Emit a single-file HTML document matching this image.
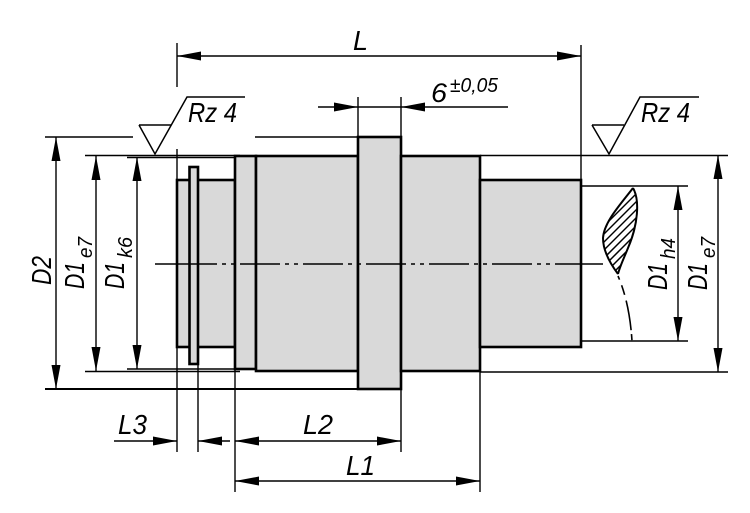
<!DOCTYPE html>
<html><head><meta charset="utf-8"><style>
html,body{margin:0;padding:0;background:#fff;}
svg{display:block;}
text{font-family:"Liberation Sans",sans-serif;font-style:italic;fill:#000;}
</style></head><body>
<svg width="750" height="513" viewBox="0 0 750 513" xmlns="http://www.w3.org/2000/svg">
<defs>
<clipPath id="leaf"><path d="M633,188 C640,200 638,225 628,248 C624,258 620,266 618,274 C612,266 603,252 603,238 C604,222 620,205 633,188 Z"/></clipPath>
</defs>

<!-- extension lines -->
<g stroke="#000" stroke-width="1.4" fill="none">
<line x1="45" y1="137" x2="133" y2="137"/>
<line x1="255" y1="137" x2="358" y2="137"/>
<line x1="45" y1="389" x2="358" y2="389" stroke-width="2"/>
<line x1="85" y1="155.5" x2="240" y2="155.5"/>
<line x1="127" y1="157.5" x2="240" y2="157.5"/>
<line x1="85" y1="371.5" x2="240" y2="371.5"/>
<line x1="127" y1="369" x2="240" y2="369"/>
<line x1="480" y1="155.5" x2="728" y2="155.5"/>
<line x1="480" y1="372" x2="728" y2="372"/>
<line x1="582" y1="186" x2="688" y2="186"/>
<line x1="582" y1="341" x2="688" y2="341"/>
<line x1="177" y1="43" x2="177" y2="87"/>
<line x1="177" y1="149" x2="177" y2="452"/>
<line x1="581" y1="45" x2="581" y2="182"/>
<line x1="358" y1="97" x2="358" y2="138"/>
<line x1="401" y1="97" x2="401" y2="138"/>
<line x1="401" y1="388" x2="401" y2="452"/>
<line x1="198" y1="360" x2="198" y2="452"/>
<line x1="235" y1="365" x2="235" y2="492"/>
<line x1="480" y1="368" x2="480" y2="492"/>
</g>

<!-- parts -->
<g fill="#d9d9d9" stroke="#000" stroke-width="2.6">
<rect x="177" y="180" width="58" height="167"/>
<rect x="189.5" y="167" width="8.5" height="197"/>
<rect x="235" y="156" width="21" height="213"/>
<rect x="256" y="156" width="102" height="215"/>
<rect x="358" y="137" width="43" height="252"/>
<rect x="401" y="156" width="79" height="215"/>
<rect x="480" y="180" width="101" height="167"/>
</g>

<!-- centerline -->
<g stroke="#000" stroke-width="1.4">
<line x1="155" y1="264" x2="177" y2="264"/>
<line x1="177" y1="264" x2="581" y2="264" stroke-dasharray="40,5,4,5,4,5"/>
<line x1="581" y1="264" x2="603" y2="264"/>
</g>

<!-- hatched break section -->
<g clip-path="url(#leaf)" stroke="#000" stroke-width="1.5">
<line x1="590" y1="240" x2="650" y2="180"/>
<line x1="590" y1="248" x2="650" y2="188"/>
<line x1="590" y1="256" x2="650" y2="196"/>
<line x1="590" y1="264" x2="650" y2="204"/>
<line x1="590" y1="272" x2="650" y2="212"/>
<line x1="590" y1="280" x2="650" y2="220"/>
<line x1="590" y1="288" x2="650" y2="228"/>
<line x1="590" y1="296" x2="650" y2="236"/>
<line x1="590" y1="304" x2="650" y2="244"/>
<line x1="590" y1="312" x2="650" y2="252"/>
<line x1="590" y1="320" x2="650" y2="260"/>
</g>
<g fill="none" stroke="#000" stroke-width="2">
<path d="M633,188 C640,200 638,225 628,248 C624,258 620,266 618,274"/>
<path d="M633,188 C620,205 604,222 603,238 C603,252 612,266 618,274"/>
<path d="M618,276 C624,290 630,310 632,341" stroke-width="1.6" stroke-dasharray="4,6,10,6,30"/>
</g>

<!-- dimension lines -->
<g stroke="#000" stroke-width="1.4">
<line x1="177" y1="56" x2="581" y2="56"/>
<line x1="318" y1="107" x2="508" y2="107"/>
<line x1="114" y1="441" x2="177" y2="441"/>
<line x1="198" y1="441" x2="230" y2="441"/>
<line x1="235" y1="441" x2="401" y2="441"/>
<line x1="235" y1="481" x2="480" y2="481"/>
<line x1="56" y1="137" x2="56" y2="389"/>
<line x1="96" y1="156" x2="96" y2="371"/>
<line x1="137" y1="157" x2="137" y2="369"/>
<line x1="678" y1="186" x2="678" y2="341"/>
<line x1="718" y1="155" x2="718" y2="372"/>
</g>

<!-- arrowheads -->
<g fill="#000">
<polygon points="177,56 201,51.5 201,60.5"/>
<polygon points="581,56 557,51.5 557,60.5"/>
<polygon points="358,107 334,102.5 334,111.5"/>
<polygon points="401,107 425,102.5 425,111.5"/>
<polygon points="177,441 153,436.5 153,445.5"/>
<polygon points="198,441 222,436.5 222,445.5"/>
<polygon points="235,441 259,436.5 259,445.5"/>
<polygon points="401,441 377,436.5 377,445.5"/>
<polygon points="235,481 259,476.5 259,485.5"/>
<polygon points="480,481 456,476.5 456,485.5"/>
<polygon points="56,137 51.5,161 60.5,161"/>
<polygon points="56,389 51.5,365 60.5,365"/>
<polygon points="96,156 91.5,180 100.5,180"/>
<polygon points="96,371 91.5,347 100.5,347"/>
<polygon points="137,157 132.5,181 141.5,181"/>
<polygon points="137,369 132.5,345 141.5,345"/>
<polygon points="678,186 673.5,210 682.5,210"/>
<polygon points="678,341 673.5,317 682.5,317"/>
<polygon points="718,155 713.5,179 722.5,179"/>
<polygon points="718,372 713.5,348 722.5,348"/>
</g>

<!-- surface roughness symbols -->
<g fill="none" stroke="#000" stroke-width="1.5">
<polyline points="139,125 171,125"/>
<polyline points="139,125 155,154 187,97 245,97"/>
<polyline points="592,125 624,125"/>
<polyline points="592,125 609,154 640,97 699,97"/>
</g>

<!-- labels -->
<text x="353" y="50" font-size="28" textLength="15" lengthAdjust="spacingAndGlyphs">L</text>
<text x="431" y="102" font-size="27" textLength="16" lengthAdjust="spacingAndGlyphs">6</text>
<text x="450" y="92" font-size="20" textLength="48" lengthAdjust="spacingAndGlyphs">±0,05</text>
<text x="188" y="122" font-size="28" textLength="49" lengthAdjust="spacingAndGlyphs">Rz 4</text>
<text x="641" y="122" font-size="28" textLength="49" lengthAdjust="spacingAndGlyphs">Rz 4</text>
<text x="118" y="434" font-size="28" textLength="29" lengthAdjust="spacingAndGlyphs">L3</text>
<text x="303" y="434" font-size="28" textLength="30" lengthAdjust="spacingAndGlyphs">L2</text>
<text x="346" y="475" font-size="28" textLength="29" lengthAdjust="spacingAndGlyphs">L1</text>

<text transform="translate(51,285) rotate(-90)" font-size="28" textLength="29" lengthAdjust="spacingAndGlyphs">D2</text>
<text transform="translate(84,289) rotate(-90)" font-size="28" textLength="27" lengthAdjust="spacingAndGlyphs">D1</text>
<text transform="translate(92,258) rotate(-90)" font-size="20" textLength="21" lengthAdjust="spacingAndGlyphs">e7</text>
<text transform="translate(124,289) rotate(-90)" font-size="28" textLength="27" lengthAdjust="spacingAndGlyphs">D1</text>
<text transform="translate(132,258) rotate(-90)" font-size="20" textLength="21" lengthAdjust="spacingAndGlyphs">k6</text>
<text transform="translate(667,290) rotate(-90)" font-size="28" textLength="27" lengthAdjust="spacingAndGlyphs">D1</text>
<text transform="translate(675,259) rotate(-90)" font-size="20" textLength="21" lengthAdjust="spacingAndGlyphs">h4</text>
<text transform="translate(707,290) rotate(-90)" font-size="28" textLength="27" lengthAdjust="spacingAndGlyphs">D1</text>
<text transform="translate(715,258) rotate(-90)" font-size="20" textLength="21" lengthAdjust="spacingAndGlyphs">e7</text>
</svg>
</body></html>
